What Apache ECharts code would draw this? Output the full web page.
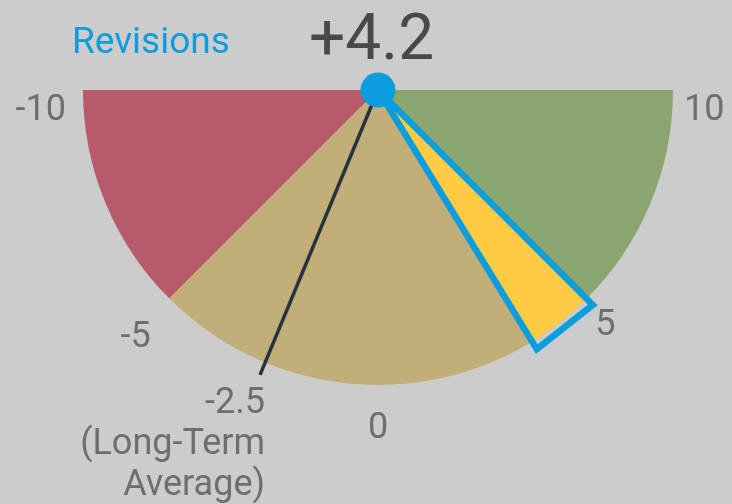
<!DOCTYPE html>
<html>
<head>
<meta charset="utf-8">
<script src="https://cdn.jsdelivr.net/npm/echarts@6/dist/echarts.min.js"></script>
<style>
html, body { margin: 0; padding: 0; background: #cccccc; }
#main { width: 732px; height: 504px; }
</style>
</head>
<body>
<div id="main"></div>
<script>
// gauge data
var scaleMin = -10;
var scaleMax = 10;
var bandStart = [-10, -5, 5];
var bandEnd = [-5, 5, 10];
var tickValues = [-10, -5, 0, 5, 10];
var currentValue = 4.2;
var currentRange = [3.5, 5];
var averageValue = -2.5;
var averageText = ['(Long-Term', 'Average)'];
var gaugeTitle = 'Revisions';

var bandColors = ['#b75b6a', '#c1ae78', '#8aa66e'];
var blue = '#0b9ddd';
var font = 'Roboto';
var labelColor = '#6e6e6e';
var none = 'rgba(0,0,0,0)';

var fullTurn = 2 * (scaleMax - scaleMin);   // the gauge only uses the lower half

var bandData = [];
for (var i = 0; i < bandStart.length; i++) {
    bandData.push({ value: bandEnd[i] - bandStart[i], itemStyle: { color: bandColors[i] } });
}
bandData.push({ value: fullTurn - (scaleMax - scaleMin), itemStyle: { color: none } });

var highlightData = [
    { value: currentRange[0] - scaleMin, itemStyle: { color: none } },
    { value: currentRange[1] - currentRange[0], itemStyle: { color: '#fecb42' } },
    { value: fullTurn - (currentRange[1] - scaleMin), itemStyle: { color: none } }
];

// per-label nudges so the ticks sit like the original
var tickRich = {
    t0: { padding: [42, 9, 0, 0] },
    t1: { padding: [16, 13, 0, 0] },
    t2: { padding: [18, 0, 0, 0] },
    t3: { padding: [4, 0, 0, 3] },
    t4: { padding: [42, 0, 0, 3] }
};
for (var k in tickRich) {
    tickRich[k].fontSize = 36;
    tickRich[k].fontFamily = font;
    tickRich[k].color = labelColor;
}

var hiddenAxis = {
    axisLine: { show: false },
    axisTick: { show: false },
    axisLabel: { show: false },
    splitLine: { show: false }
};

var myChart = echarts.init(document.getElementById('main'));

var option = {
    backgroundColor: '#cccccc',
    animation: false,
    title: [{
        text: gaugeTitle,
        left: 72,
        top: 25,
        padding: 0,
        textStyle: { color: blue, fontSize: 37, fontFamily: font, fontWeight: 'normal' }
    }, {
        text: (currentValue > 0 ? '+' : '') + currentValue.toFixed(1),
        left: 309,
        top: 11,
        padding: 0,
        textStyle: { color: '#47494d', fontSize: 64, fontFamily: font, fontWeight: 'normal' }
    }],
    polar: [
        { center: [378, 90], radius: 295 },
        { center: [378, 90], radius: 324.5 }
    ],
    angleAxis: [{
        polarIndex: 0,
        type: 'value',
        min: scaleMin,
        max: scaleMin + fullTurn,
        interval: 5,
        startAngle: 180,
        clockwise: false,
        axisLine: { show: false },
        axisTick: { show: false },
        splitLine: { show: false },
        axisLabel: {
            margin: 8,
            formatter: function(v) {
                var idx = tickValues.indexOf(v);
                if (idx < 0 || v > scaleMax) return '';
                return '{t' + idx + '|' + v + '}';
            },
            rich: tickRich
        }
    }, echarts.util.merge({
        polarIndex: 1,
        type: 'value',
        min: scaleMin,
        max: scaleMin + fullTurn,
        interval: 5,
        startAngle: 180,
        clockwise: false
    }, hiddenAxis)],
    radiusAxis: [
        echarts.util.merge({ polarIndex: 0, type: 'value', min: 0, max: 1 }, hiddenAxis),
        echarts.util.merge({ polarIndex: 1, type: 'value', min: 0, max: 1.1 }, hiddenAxis)
    ],
    series: [{
        type: 'pie',
        center: [378, 90],
        radius: 295,
        startAngle: 180,
        clockwise: false,
        silent: true,
        label: { show: false },
        labelLine: { show: false },
        itemStyle: { borderWidth: 0 },
        data: bandData,
        z: 1
    }, {
        type: 'pie',
        center: [378, 90],
        radius: 295,
        startAngle: 180,
        clockwise: false,
        silent: true,
        label: { show: false },
        labelLine: { show: false },
        itemStyle: { borderWidth: 0 },
        data: highlightData,
        z: 2
    }, {
        type: 'line',
        coordinateSystem: 'polar',
        polarIndex: 1,
        silent: true,
        symbol: 'circle',
        symbolSize: 0,
        showSymbol: true,
        lineStyle: { color: '#27323f', width: 3.5 },
        data: [[0, averageValue], {
            value: [1.045, averageValue],
            label: {
                show: true,
                position: 'bottom',
                align: 'right',
                distance: 9,
                offset: [5, 0],
                lineHeight: 41,
                fontSize: 36,
                fontFamily: font,
                color: labelColor,
                formatter: String(averageValue) + '\n' + averageText.join('\n')
            }
        }],
        z: 3
    }, {
        type: 'line',
        coordinateSystem: 'polar',
        polarIndex: 1,
        silent: true,
        symbol: 'none',
        lineStyle: { color: blue, width: 6.5, join: 'miter' },
        data: [
            [0, currentRange[0]],
            [1.03, currentRange[0]],
            [1.03, currentRange[1]],
            [0, currentRange[1]],
            [0, currentRange[0]]
        ],
        z: 4
    }, {
        type: 'scatter',
        coordinateSystem: 'polar',
        polarIndex: 1,
        silent: true,
        symbolSize: 35,
        itemStyle: { color: blue, opacity: 1 },
        data: [[0, currentValue]],
        z: 5
    }]
};

myChart.setOption(option);
</script>
</body>
</html>
